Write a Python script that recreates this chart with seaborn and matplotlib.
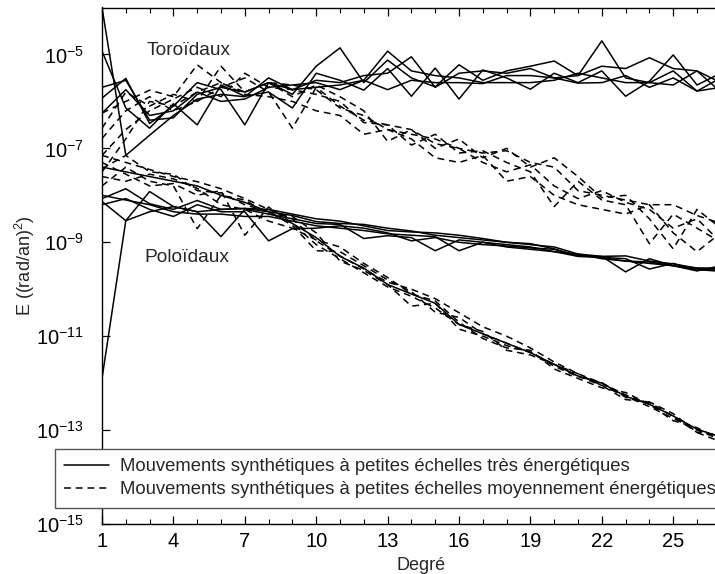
import numpy as np
import pandas as pd
import matplotlib
matplotlib.use("Agg")
import matplotlib.pyplot as plt
from matplotlib.lines import Line2D
from matplotlib.ticker import FixedLocator, NullFormatter
import seaborn as sns

# ---------------- data (log10 of E) ----------------
degrees = list(range(1, 28))

tor_strong_1 = [-4.00, -7.15, -6.72, -6.30, -5.95, -5.85, -5.90, -5.50, -5.75, -5.55, -5.60, -5.45, -5.40, -5.05, -5.70, -5.40, -5.35, -5.40, -5.30, -5.50, -5.45, -4.71, -5.50, -5.60, -5.35, -5.78, -5.50]
tor_strong_2 = [-4.93, -6.14, -6.57, -6.05, -6.50, -5.65, -5.89, -5.80, -6.14, -5.40, -5.55, -5.76, -5.30, -5.89, -5.29, -5.95, -5.33, -5.50, -5.74, -5.40, -5.60, -5.35, -5.89, -5.57, -5.01, -5.65, -5.40]
tor_strong_3 = [-5.93, -5.51, -6.47, -6.10, -5.60, -5.75, -6.50, -5.60, -5.85, -5.25, -4.86, -5.60, -5.12, -5.50, -5.69, -5.22, -5.55, -5.35, -5.25, -5.14, -5.45, -5.25, -5.30, -5.07, -5.30, -5.35, -5.60]
tor_strong_4 = [-6.25, -5.75, -6.30, -6.20, -5.80, -6.00, -5.95, -5.70, -5.65, -5.60, -5.75, -5.55, -4.93, -5.35, -5.45, -5.50, -5.60, -5.60, -5.60, -5.55, -5.40, -5.50, -5.60, -5.60, -5.65, -5.35, -5.80]
tor_strong_5 = [-5.70, -5.55, -6.40, -6.35, -5.85, -5.70, -5.80, -5.60, -5.75, -5.70, -5.65, -5.55, -5.75, -5.55, -5.60, -5.60, -5.62, -5.45, -5.45, -5.50, -5.61, -5.60, -5.45, -5.70, -5.50, -5.78, -5.70]

tor_medium_1 = [-6.25, -6.00, -5.76, -5.90, -5.22, -5.60, -5.80, -5.60, -5.65, -5.75, -6.14, -6.30, -6.60, -6.70, -6.80, -7.00, -7.10, -7.05, -7.30, -7.40, -7.90, -8.00, -8.10, -8.20, -8.20, -8.43, -8.60]
tor_medium_2 = [-6.57, -5.80, -6.10, -5.85, -6.00, -5.25, -5.80, -5.60, -5.90, -5.65, -5.90, -6.20, -6.85, -6.60, -7.00, -6.80, -7.20, -7.00, -7.40, -7.20, -7.60, -8.05, -8.00, -8.50, -9.14, -8.30, -8.70]
tor_medium_3 = [-6.79, -6.20, -5.90, -6.20, -6.00, -5.70, -5.50, -5.80, -6.57, -5.70, -6.10, -6.40, -6.50, -6.93, -6.70, -7.10, -7.05, -7.30, -7.50, -8.24, -7.70, -8.10, -8.20, -9.03, -8.40, -8.70, -9.00]
tor_medium_4 = [-7.15, -6.60, -6.20, -5.95, -5.70, -5.90, -5.40, -5.70, -5.75, -5.85, -6.00, -6.45, -6.50, -6.60, -6.90, -7.00, -7.30, -7.50, -7.35, -7.80, -8.07, -7.90, -8.15, -8.30, -8.70, -8.50, -9.00]
tor_medium_5 = [-7.50, -6.80, -6.00, -6.10, -5.80, -5.60, -5.85, -5.90, -6.00, -6.20, -6.30, -6.70, -6.60, -6.80, -7.20, -7.30, -7.15, -7.70, -7.60, -8.00, -8.20, -8.30, -8.40, -8.20, -8.80, -9.20, -8.80]

pol_strong_1 = [-11.90, -8.54, -7.92, -8.24, -8.35, -8.30, -8.28, -8.35, -8.43, -8.56, -8.60, -8.62, -8.70, -8.76, -8.85, -8.90, -8.95, -9.00, -9.03, -9.14, -9.30, -9.30, -9.29, -9.40, -9.46, -9.55, -9.55]
pol_strong_2 = [-8.07, -7.86, -8.18, -8.30, -8.11, -8.30, -8.28, -8.30, -8.40, -8.50, -8.55, -8.65, -8.75, -8.78, -8.80, -8.85, -8.92, -9.00, -9.05, -9.10, -9.25, -9.30, -9.63, -9.35, -9.50, -9.61, -9.50]
pol_strong_3 = [-8.13, -8.54, -8.35, -8.24, -8.35, -8.88, -8.30, -8.40, -8.50, -8.60, -8.62, -8.92, -8.86, -8.90, -9.18, -8.95, -9.00, -9.05, -9.10, -9.20, -9.30, -9.32, -9.35, -9.57, -9.45, -9.60, -9.55]
pol_strong_4 = [-8.20, -8.07, -8.30, -8.45, -8.20, -8.35, -8.35, -8.97, -8.71, -8.70, -8.65, -8.70, -8.80, -8.97, -8.90, -9.00, -9.05, -9.08, -9.12, -9.15, -9.28, -9.33, -9.40, -9.45, -9.50, -9.58, -9.62]
pol_strong_5 = [-8.00, -8.10, -8.20, -8.35, -8.40, -8.40, -8.45, -8.45, -8.55, -8.65, -8.70, -8.75, -8.82, -8.85, -8.88, -9.18, -9.00, -9.10, -9.15, -9.20, -9.25, -9.35, -9.40, -9.42, -9.50, -9.55, -9.58]
pol_strong_6 = [-7.40, -7.50, -7.60, -7.70, -7.80, -8.00, -8.15, -8.35, -8.60, -8.90, -9.30, -9.55, -9.90, -10.10, -10.30, -10.75, -10.95, -11.15, -11.35, -11.60, -11.85, -12.00, -12.28, -12.45, -12.70, -12.98, -13.15]

pol_medium_1 = [-7.15, -7.30, -7.45, -7.60, -7.71, -7.86, -8.07, -8.30, -8.50, -8.97, -9.29, -9.57, -9.85, -10.00, -10.20, -10.50, -10.80, -11.00, -11.25, -11.55, -11.80, -12.00, -12.25, -12.45, -12.70, -13.00, -13.15]
pol_medium_2 = [-7.43, -7.15, -7.50, -7.55, -7.90, -7.95, -8.20, -8.35, -8.64, -9.18, -9.20, -9.50, -9.80, -10.05, -10.49, -10.60, -10.95, -11.15, -11.35, -11.60, -11.85, -12.05, -12.28, -12.50, -12.75, -13.00, -13.20]
pol_medium_3 = [-7.80, -7.40, -7.70, -7.80, -8.71, -8.00, -8.10, -8.40, -8.45, -8.80, -9.40, -9.60, -9.90, -10.36, -10.30, -10.85, -11.00, -11.20, -11.34, -11.64, -11.86, -11.99, -12.30, -12.41, -12.71, -13.05, -13.10]
pol_medium_4 = [-7.60, -7.70, -7.55, -7.65, -7.85, -8.20, -8.30, -8.55, -8.70, -8.95, -9.10, -9.45, -9.75, -10.10, -10.25, -10.70, -11.05, -11.25, -11.30, -11.70, -11.90, -12.10, -12.20, -12.45, -12.80, -12.95, -13.20]
pol_medium_5 = [-7.30, -7.55, -7.80, -7.75, -8.00, -7.90, -8.85, -8.25, -8.60, -9.05, -9.35, -9.65, -9.95, -10.15, -10.40, -10.75, -10.90, -11.30, -11.40, -11.60, -11.80, -12.05, -12.35, -12.40, -12.65, -13.05, -13.25]

strong_series = [tor_strong_1, tor_strong_2, tor_strong_3, tor_strong_4, tor_strong_5,
                 pol_strong_1, pol_strong_2, pol_strong_3, pol_strong_4, pol_strong_5, pol_strong_6]
medium_series = [tor_medium_1, tor_medium_2, tor_medium_3, tor_medium_4, tor_medium_5,
                 pol_medium_1, pol_medium_2, pol_medium_3, pol_medium_4, pol_medium_5]

label_strong = "Mouvements synthétiques à petites échelles très énergétiques"
label_medium = "Mouvements synthétiques à petites échelles moyennement énergétiques"
x_ticks = [1, 4, 7, 10, 13, 16, 19, 22, 25]
y_ticks = [1e-15, 1e-13, 1e-11, 1e-9, 1e-7, 1e-5]

# ---------------- long table ----------------
rows = []
uid = 0
for kind, group in (("strong", strong_series), ("medium", medium_series)):
    for s in group:
        for d, v in zip(degrees, s):
            rows.append({"deg": d, "E": 10.0 ** v, "kind": kind, "uid": uid})
        uid += 1
df = pd.DataFrame(rows)

# ---------------- style ----------------
sns.set_theme(style="ticks")
plt.rcParams["font.family"] = ["Liberation Sans", "DejaVu Sans"]
plt.rcParams["mathtext.fontset"] = "custom"
plt.rcParams["mathtext.rm"] = "Liberation Sans"
plt.rcParams["mathtext.it"] = "Liberation Sans:italic"
plt.rcParams["mathtext.default"] = "regular"

fig = plt.figure(figsize=(7.15, 5.74), dpi=100)
W, H = 715.0, 574.0
x0, y_bot, y_top = 102.0, 524.0, 7.5
px_per_deg = 23.8
xmax = 30
ax_w = (xmax - 1) * px_per_deg
ax = fig.add_axes([x0 / W, (H - y_bot) / H, ax_w / W, (y_bot - y_top) / H])

sns.lineplot(data=df, x="deg", y="E", units="uid", style="kind", estimator=None,
             color="black", linewidth=1.1, sort=False, ax=ax, legend=False,
             dashes={"strong": "", "medium": (4.5, 3.2)})

ax.set_yscale("log")
ax.set_xlim(1, xmax)
ax.set_ylim(1e-15, 1e-4)

ax.xaxis.set_major_locator(FixedLocator(x_ticks))
ax.xaxis.set_minor_locator(FixedLocator(list(range(1, xmax + 1))))
ax.yaxis.set_major_locator(FixedLocator(y_ticks))
ax.yaxis.set_minor_locator(FixedLocator([]))
ax.yaxis.set_minor_formatter(NullFormatter())

ax.tick_params(axis="both", which="both", direction="in", top=True, right=True, colors="black")
ax.tick_params(axis="x", which="major", length=6, width=0.9, labelsize=14.5, pad=6)
ax.tick_params(axis="x", which="minor", length=3.5, width=0.8)
ax.tick_params(axis="y", which="major", length=6, width=0.9, labelsize=14.5, pad=13)
for sp in ax.spines.values():
    sp.set_linewidth(1.0)
    sp.set_color("black")

ax.set_xlabel("Degré", fontsize=13)
ax.xaxis.set_label_coords((421 - x0) / ax_w, -(565 - y_bot) / (y_bot - y_top), transform=ax.transAxes)
ax.xaxis.label.set_va("center")
ax.set_ylabel("E ((rad/an)$^2$)", fontsize=13)
ax.yaxis.set_label_coords(-(x0 - 25) / ax_w, 0.5, transform=ax.transAxes)
ax.yaxis.label.set_va("center")

ax.text(2.89, 10 ** -4.925, "Toroïdaux", fontsize=13.8, ha="left", va="center")
ax.text(2.76, 10 ** -9.33, "Poloïdaux", fontsize=13.8, ha="left", va="center")

handles = [Line2D([0], [0], color="black", lw=1.1, linestyle="-"),
           Line2D([0], [0], color="black", lw=1.1, linestyle=(0, (4.5, 3.2)))]
leg = fig.legend(handles, [label_strong, label_medium], loc="upper left",
                 bbox_to_anchor=(55 / W, 1 - 449 / H), fontsize=13.3, frameon=True,
                 fancybox=False, edgecolor="#555555", framealpha=1, borderaxespad=0,
                 handlelength=2.45, borderpad=0.5, labelspacing=0.33, handletextpad=0.55)
leg.get_frame().set_linewidth(1.0)

fig.savefig("out.png", dpi=100)
